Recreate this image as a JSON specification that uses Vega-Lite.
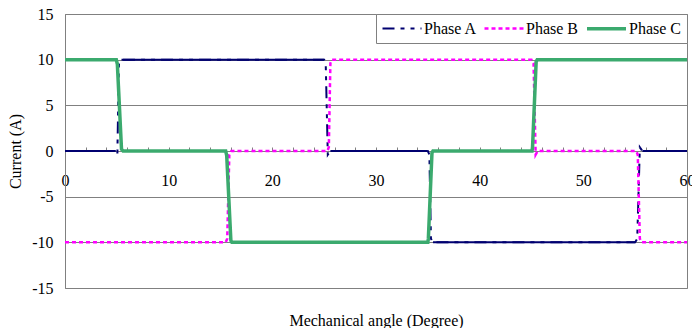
{
  "$schema": "https://vega.github.io/schema/vega-lite/v6.json",
  "autosize": {"type": "none"},
  "width": 622,
  "height": 274,
  "padding": {"left": 65, "top": 14, "right": 5, "bottom": 40},
  "background": "white",
  "config": {"view": {"stroke": "#808080", "strokeWidth": 1}, "font": "Liberation Serif"},
  "data": {"values": [
    {"phase": "Phase A", "x": 0, "y": 0, "seg": 1},
    {"phase": "Phase A", "x": 4.9, "y": 0, "seg": 1},
    {"phase": "Phase A", "x": 5.05, "y": -0.4, "seg": null},
    {"phase": "Phase A", "x": 5.2, "y": 9.5, "seg": null},
    {"phase": "Phase A", "x": 5.45, "y": 10, "seg": 2},
    {"phase": "Phase A", "x": 25.0, "y": 10, "seg": 2},
    {"phase": "Phase A", "x": 25.15, "y": 9.6, "seg": null},
    {"phase": "Phase A", "x": 25.35, "y": -0.4, "seg": null},
    {"phase": "Phase A", "x": 25.6, "y": 0, "seg": 3},
    {"phase": "Phase A", "x": 35.0, "y": 0, "seg": 3},
    {"phase": "Phase A", "x": 35.15, "y": -0.4, "seg": null},
    {"phase": "Phase A", "x": 35.3, "y": -9.6, "seg": null},
    {"phase": "Phase A", "x": 35.5, "y": -10, "seg": 4},
    {"phase": "Phase A", "x": 55.0, "y": -10, "seg": 4},
    {"phase": "Phase A", "x": 55.2, "y": -9.6, "seg": null},
    {"phase": "Phase A", "x": 55.45, "y": 0.4, "seg": null},
    {"phase": "Phase A", "x": 55.7, "y": 0, "seg": 5},
    {"phase": "Phase A", "x": 60, "y": 0, "seg": 5},
    {"phase": "Phase B", "x": 0, "y": -10, "seg": null},
    {"phase": "Phase B", "x": 15.5, "y": -10, "seg": null},
    {"phase": "Phase B", "x": 15.65, "y": -9.6, "seg": null},
    {"phase": "Phase B", "x": 15.85, "y": -0.4, "seg": null},
    {"phase": "Phase B", "x": 16.05, "y": 0, "seg": null},
    {"phase": "Phase B", "x": 25.3, "y": 0, "seg": null},
    {"phase": "Phase B", "x": 25.45, "y": 0.4, "seg": null},
    {"phase": "Phase B", "x": 25.6, "y": 9.6, "seg": null},
    {"phase": "Phase B", "x": 25.75, "y": 10, "seg": null},
    {"phase": "Phase B", "x": 45.0, "y": 10, "seg": null},
    {"phase": "Phase B", "x": 45.2, "y": 9.6, "seg": null},
    {"phase": "Phase B", "x": 45.4, "y": -0.4, "seg": null},
    {"phase": "Phase B", "x": 45.6, "y": 0, "seg": null},
    {"phase": "Phase B", "x": 55.1, "y": 0, "seg": null},
    {"phase": "Phase B", "x": 55.25, "y": -0.4, "seg": null},
    {"phase": "Phase B", "x": 55.45, "y": -9.6, "seg": null},
    {"phase": "Phase B", "x": 55.65, "y": -10, "seg": null},
    {"phase": "Phase B", "x": 60, "y": -10, "seg": null},
    {"phase": "Phase C", "x": 0, "y": 10, "seg": null},
    {"phase": "Phase C", "x": 4.95, "y": 10, "seg": null},
    {"phase": "Phase C", "x": 5.05, "y": 9.5, "seg": null},
    {"phase": "Phase C", "x": 5.45, "y": 0.2, "seg": null},
    {"phase": "Phase C", "x": 5.6, "y": 0, "seg": null},
    {"phase": "Phase C", "x": 15.5, "y": 0, "seg": null},
    {"phase": "Phase C", "x": 15.6, "y": -0.5, "seg": null},
    {"phase": "Phase C", "x": 16.0, "y": -9.8, "seg": null},
    {"phase": "Phase C", "x": 16.1, "y": -10, "seg": null},
    {"phase": "Phase C", "x": 35.0, "y": -10, "seg": null},
    {"phase": "Phase C", "x": 35.05, "y": -9.6, "seg": null},
    {"phase": "Phase C", "x": 35.4, "y": -0.2, "seg": null},
    {"phase": "Phase C", "x": 35.5, "y": 0, "seg": null},
    {"phase": "Phase C", "x": 45.05, "y": 0, "seg": null},
    {"phase": "Phase C", "x": 45.1, "y": 0.4, "seg": null},
    {"phase": "Phase C", "x": 45.45, "y": 9.8, "seg": null},
    {"phase": "Phase C", "x": 45.55, "y": 10, "seg": null},
    {"phase": "Phase C", "x": 60, "y": 10, "seg": null}
  ]},
  "encoding": {
    "x": {
      "field": "x", "type": "quantitative",
      "scale": {"domain": [0, 60], "nice": false},
      "axis": {
        "title": "Mechanical angle (Degree)",
        "offset": -137,
        "values": [0,2,4,6,8,10,12,14,16,18,20,22,24,26,28,30,32,34,36,38,40,42,44,46,48,50,52,54,56,58,60],
        "labelExpr": "datum.value % 10 === 0 ? toString(datum.value) : ''",
        "grid": false,
        "domainColor": "#808080",
        "tickColor": "#808080",
        "tickSize": -4,
        "labelPadding": 25,
        "labelFont": "Liberation Serif",
        "labelFontSize": 16,
        "labelColor": "black",
        "labelFlush": false,
        "labelOverlap": false,
        "titleFont": "Liberation Serif",
        "titleFontSize": 16,
        "titleFontWeight": "normal",
        "titleColor": "black",
        "titleY": 169,
        "titleBaseline": "middle"
      }
    },
    "y": {
      "field": "y", "type": "quantitative",
      "scale": {"domain": [-15, 15], "nice": false},
      "axis": {
        "title": "Current (A)",
        "values": [-15, -10, -5, 0, 5, 10, 15],
        "labelExpr": "toString(datum.value)",
        "grid": true,
        "gridColor": "#808080",
        "gridOpacity": 1,
        "domainColor": "#808080",
        "ticks": false,
        "labelPadding": 12,
        "labelFont": "Liberation Serif",
        "labelFontSize": 16,
        "labelColor": "black",
        "titleFont": "Liberation Serif",
        "titleFontSize": 16,
        "titleFontWeight": "normal",
        "titleColor": "black",
        "titleX": -50,
        "titleY": 137,
        "titleBaseline": "middle"
      }
    }
  },
  "layer": [
    {
      "transform": [{"filter": "datum.seg != null"}],
      "mark": {"type": "line", "color": "#000070", "strokeWidth": 2},
      "encoding": {"detail": {"field": "seg", "type": "nominal"}}
    },
    {
      "mark": {"type": "line"},
      "encoding": {
        "color": {
          "field": "phase", "type": "nominal",
          "scale": {"domain": ["Phase A", "Phase B", "Phase C"], "range": ["#000070", "#ff00ff", "#3baa6e"]},
          "legend": {
            "title": null,
            "orient": "top-right",
            "offset": 0,
            "direction": "horizontal",
            "strokeColor": "#808080",
            "fillColor": "white",
            "padding": 6,
            "labelFont": "Liberation Serif",
            "labelFontSize": 16,
            "labelColor": "black",
            "symbolType": "M-3,0H3",
            "symbolSize": 169,
            "symbolOffset": 12,
            "labelOffset": 14,
            "columnPadding": 2
          }
        },
        "strokeDash": {
          "field": "phase", "type": "nominal",
          "scale": {"domain": ["Phase A", "Phase B", "Phase C"], "range": [[12, 6, 4, 6, 4, 6], [4, 3], [1, 0]]}
        },
        "strokeWidth": {
          "field": "phase", "type": "nominal",
          "scale": {"type": "ordinal", "domain": ["Phase A", "Phase B", "Phase C"], "range": [2, 2.5, 3.5]}
        }
      }
    }
  ]
}
